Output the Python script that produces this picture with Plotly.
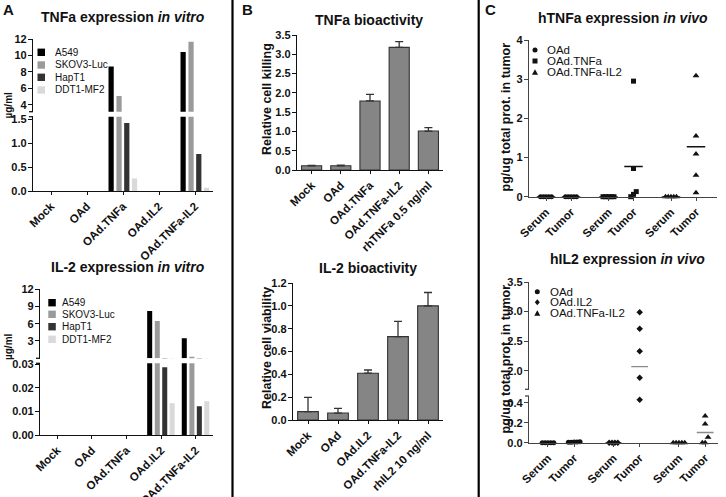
import numpy as np
import plotly.graph_objects as go

W, H = 726, 497
FONT = "Liberation Sans, Arial, sans-serif"

# ---------------- DATA ----------------
A_CATS = ["Mock", "OAd", "OAd.TNFa", "OAd.IL2", "OAd.TNFa-IL2"]
CELL_LINES = ["A549", "SKOV3-Luc", "HapT1", "DDT1-MF2"]
TNFA_A549 = [0, 0, 8.67, 0, 10.42]
TNFA_SKOV3 = [0, 0, 5.08, 0, 11.67]
TNFA_HAPT1 = [0, 0, 1.42, 0, 0.77]
TNFA_DDT1 = [0, 0, 0.26, 0, 0.07]
IL2_A549 = [0, 0, 0, 8.2, 3.46]
IL2_SKOV3 = [0, 0, 0, 6.45, 0.28]
IL2_HAPT1 = [0, 0, 0, 0.0286, 0.0122]
IL2_DDT1 = [0, 0, 0, 0.0134, 0.0143]

B_TNF_CATS = ["Mock", "OAd", "OAd.TNFa", "OAd.TNFa-IL2", "rhTNFa 0.5 ng/ml"]
B_TNF_VALS = [0.11, 0.11, 1.79, 3.18, 1.01]
B_TNF_ERR = [0.01, 0.015, 0.17, 0.15, 0.09]
B_IL2_CATS = ["Mock", "OAd", "OAd.IL2", "OAd.TNFa-IL2", "rhIL2 10 ng/ml"]
B_IL2_VALS = [0.073, 0.061, 0.41, 0.73, 1.0]
B_IL2_ERR = [0.125, 0.04, 0.028, 0.134, 0.117]

C_LABELS = ["Serum", "Tumor", "Serum", "Tumor", "Serum", "Tumor"]
C_SLOTS = [0, 1, 2.5, 3.5, 5, 6]
C_TOP_GROUPS = ["OAd", "OAd.TNFa", "OAd.TNFa-IL2"]
HTNF_OAD_SERUM = [0, 0, 0, 0, 0]
HTNF_OAD_TUMOR = [0, 0, 0, 0, 0]
HTNF_TNF_SERUM = [0, 0, 0, 0, 0]
HTNF_TNF_TUMOR = [2.95, 0.72, 0.13, 0.0, 0.06]
HTNF_TNFIL2_SERUM = [0, 0, 0, 0, 0]
HTNF_TNFIL2_TUMOR = [3.09, 1.55, 1.09, 0.55, 0.10]
C_BOT_GROUPS = ["OAd", "OAd.IL2", "OAd.TNFa-IL2"]
HIL2_OAD_SERUM = [0, 0, 0, 0, 0]
HIL2_OAD_TUMOR = [0.008, 0.005, 0.010, 0.006, 0.004]
HIL2_IL2_SERUM = [0, 0, 0, 0]
HIL2_IL2_TUMOR = [2.99, 2.71, 2.33, 1.88, 0.43]
HIL2_TNFIL2_SERUM = [0, 0, 0, 0, 0]
HIL2_TNFIL2_TUMOR = [0.267, 0.187, 0.054, 0.0, 0.0]

# ---------------- STYLE ----------------
BAR_COLORS = ["#000000", "#9a9a9a", "#333333", "#d9d9d9"]
BAR_OFFS = [-0.33, -0.11, 0.105, 0.32]
BAR_W = 0.145
C_SYMBOLS_TOP = ["circle", "square", "triangle-up"]
C_SYMBOLS_BOT = ["circle", "diamond", "triangle-up"]


def xd(a, b):
    return [a / W, b / W]


def yd(top, bottom):
    return [1 - bottom / H, 1 - top / H]


def X(px):
    return px / W


def Y(py):
    return 1 - py / H


AXC = "#111111"
TICKFONT = dict(family=FONT, size=11, color=AXC, weight="bold")
XTICKFONT = dict(family=FONT, size=11.5, color=AXC, weight="bold")


def yax(domain, anchor, rng, tickvals, fmt, color=AXC):
    return dict(domain=domain, anchor=anchor, range=rng, tickvals=tickvals,
                ticktext=[fmt.format(v) for v in tickvals], automargin=False,
                showline=True, linecolor=color, linewidth=1.3, ticks="outside",
                ticklen=4, tickwidth=1.3, tickcolor=color, showgrid=False,
                zeroline=False, tickfont=TICKFONT, fixedrange=True, ticklabelstandoff=-1)


def xax_cat(domain, anchor, cats, color=AXC):
    return dict(domain=domain, anchor=anchor, type="category", automargin=False,
                categoryorder="array", categoryarray=cats, range=[-0.5, len(cats) - 0.5],
                showline=True, linecolor=color, linewidth=1.3, ticks="outside",
                ticklen=3, tickwidth=1.3, tickcolor=color, showgrid=False,
                zeroline=False, tickangle=-45, tickfont=XTICKFONT, fixedrange=True)


def xax_num(domain, anchor, rng, color=AXC):
    return dict(domain=domain, anchor=anchor, range=rng, tickvals=C_SLOTS, automargin=False,
                ticktext=C_LABELS, showline=True, linecolor=color, linewidth=1.3,
                ticks="outside", ticklen=3, tickwidth=1.3, tickcolor=color,
                showgrid=False, zeroline=False, tickangle=-45, tickfont=XTICKFONT,
                fixedrange=True)


fig = go.Figure()

# ---------------- PANEL A ----------------
tnfa_series = [TNFA_A549, TNFA_SKOV3, TNFA_HAPT1, TNFA_DDT1]
il2_series = [IL2_A549, IL2_SKOV3, IL2_HAPT1, IL2_DDT1]
for xa, ylist, series in (("x", ("y", "y2"), tnfa_series), ("x2", ("y3", "y4"), il2_series)):
    for ya in ylist:
        for i, vals in enumerate(series):
            fig.add_trace(go.Bar(x=A_CATS, y=vals, xaxis=xa, yaxis=ya,
                                 marker=dict(color=BAR_COLORS[i], line=dict(width=0)),
                                 offset=BAR_OFFS[i] - BAR_W / 2, width=BAR_W,
                                 showlegend=False, name=CELL_LINES[i]))

# ---------------- PANEL B ----------------
for xa, ya, cats, vals, err in (("x3", "y5", B_TNF_CATS, B_TNF_VALS, B_TNF_ERR),
                                ("x4", "y6", B_IL2_CATS, B_IL2_VALS, B_IL2_ERR)):
    fig.add_trace(go.Bar(x=cats, y=vals, xaxis=xa, yaxis=ya, width=0.69,
                         marker=dict(color="#858585", line=dict(color="#333333", width=1.1)),
                         error_y=dict(type="data", array=err, arrayminus=[0] * len(err),
                                      symmetric=False, color="#333333", thickness=1.3, width=4),
                         showlegend=False))


# ---------------- PANEL C ----------------
def swarm(vals, tol, step):
    vals = np.asarray(vals, dtype=float)
    order = np.argsort(vals, kind="stable")
    offs = np.zeros(len(vals))
    clusters, cur = [], [order[0]]
    for i in order[1:]:
        if vals[i] - vals[cur[-1]] < tol:
            cur.append(i)
        else:
            clusters.append(cur)
            cur = [i]
    clusters.append(cur)
    for c in clusters:
        n = len(c)
        for k, idx in enumerate(c):
            offs[idx] = (k - (n - 1) / 2) * step
    return offs


c_top = [HTNF_OAD_SERUM, HTNF_OAD_TUMOR, HTNF_TNF_SERUM, HTNF_TNF_TUMOR,
         HTNF_TNFIL2_SERUM, HTNF_TNFIL2_TUMOR]
c_bot = [HIL2_OAD_SERUM, HIL2_OAD_TUMOR, HIL2_IL2_SERUM, HIL2_IL2_TUMOR,
         HIL2_TNFIL2_SERUM, HIL2_TNFIL2_TUMOR]

for gi, vals in enumerate(c_top):
    slot = C_SLOTS[gi]
    m = float(np.mean(vals))
    fig.add_trace(go.Scatter(x=[slot - 0.37, slot + 0.37], y=[m, m], xaxis="x5", yaxis="y7",
                             mode="lines", line=dict(color="#111111", width=1.4),
                             showlegend=False, hoverinfo="skip"))
for gi, vals in enumerate(c_top):
    slot = C_SLOTS[gi]
    offs = swarm(vals, 0.15, 0.11)
    sym = C_SYMBOLS_TOP[gi // 2]
    fig.add_trace(go.Scatter(x=slot + offs, y=vals, xaxis="x5", yaxis="y7", mode="markers",
                             marker=dict(symbol=sym, size=5 if sym != "triangle-up" else 6,
                                         color="#111111", line=dict(width=0)),
                             cliponaxis=False, showlegend=False))

LOW_MAX, UP_MIN = 0.467, 1.685
for gi, vals in enumerate(c_bot):
    slot = C_SLOTS[gi]
    m = float(np.mean(vals))
    for ya in ("y8", "y9"):
        fig.add_trace(go.Scatter(x=[slot - 0.32, slot + 0.32], y=[m, m], xaxis="x6", yaxis=ya,
                                 mode="lines", line=dict(color="#8a8a8a", width=1.4),
                                 showlegend=False, hoverinfo="skip"))
for gi, vals in enumerate(c_bot):
    slot = C_SLOTS[gi]
    offs = swarm(vals, 0.07, 0.11)
    sym = C_SYMBOLS_BOT[gi // 2]
    v = np.asarray(vals, dtype=float)
    xs = slot + offs
    for ya, mask in (("y8", v <= LOW_MAX), ("y9", v >= UP_MIN)):
        if mask.any():
            fig.add_trace(go.Scatter(x=xs[mask], y=v[mask], xaxis="x6", yaxis=ya, mode="markers",
                                     marker=dict(symbol=sym, size=5 if sym != "triangle-up" else 6,
                                                 color="#111111", line=dict(width=0)),
                                     cliponaxis=False, showlegend=False))

# ---------------- AXES ----------------
CAX = "#444444"
layout_axes = dict(
    xaxis=xax_cat(xd(33, 213), "y", A_CATS),
    yaxis=yax(yd(116.7, 191), "x", [0, 1.55], [0, 0.5, 1.0, 1.5], "{:.1f}"),
    yaxis2=yax(yd(39, 111.7), "x", [3.17, 12], [4, 6, 8, 10, 12], "{:.0f}"),
    xaxis2=xax_cat(xd(40, 213), "y3", A_CATS),
    yaxis3=yax(yd(363.3, 435), "x2", [0, 0.0303], [0, 0.01, 0.02, 0.03], "{:.2f}"),
    yaxis4=yax(yd(289, 358.3), "x2", [0, 12], [3, 6, 9, 12], "{:.0f}"),
    xaxis3=xax_cat(xd(297, 443), "y5", B_TNF_CATS),
    yaxis5=yax(yd(35, 170), "x3", [0, 3.5], [0, 0.5, 1, 1.5, 2, 2.5, 3, 3.5], "{:.1f}"),
    xaxis4=xax_cat(xd(293, 443), "y6", B_IL2_CATS),
    yaxis6=yax(yd(283, 420), "x4", [0, 1.2], [0, 0.2, 0.4, 0.6, 0.8, 1.0, 1.2], "{:.1f}"),
    xaxis5=xax_num(xd(529, 717), "y7", [-0.68, 6.84], CAX),
    yaxis7=yax(yd(40, 196.7), "x5", [0, 4], [0, 1, 2, 3, 4], "{:.0f}", CAX),
    xaxis6=xax_num(xd(529, 718), "y8", [-0.725, 6.49], CAX),
    yaxis8=yax(yd(396, 442.7), "x6", [0, LOW_MAX], [0, 0.2, 0.4], "{:.1f}", CAX),
    yaxis9=yax(yd(282, 389.3), "x6", [UP_MIN, 3.5], [2.0, 2.5, 3.0, 3.5], "{:.1f}", CAX),
)

# ---------------- SHAPES & ANNOTATIONS ----------------
shapes, annots = [], []


def hline(x0, x1, y, color=AXC, w=1.3):
    shapes.append(dict(type="line", xref="paper", yref="paper", x0=X(x0), x1=X(x1),
                       y0=Y(y), y1=Y(y), line=dict(color=color, width=w)))


def vline(x, y0, y1, color="#000", w=2.2):
    shapes.append(dict(type="line", xref="paper", yref="paper", x0=X(x), x1=X(x),
                       y0=Y(y0), y1=Y(y1), line=dict(color=color, width=w)))


def text(x, y, s, size, anchor="center", angle=0):
    annots.append(dict(xref="paper", yref="paper", x=X(x), y=Y(y), text=s, showarrow=False,
                       xanchor=anchor, yanchor="middle", textangle=angle,
                       font=dict(family=FONT, size=size, color="#111111")))


vline(232.5, 0, 497)
vline(478.7, 0, 497)

for xax_px, ys, col in ((33, (111.7, 116.7), AXC), (40, (358.3, 363.3), AXC),
                        (529, (389.3, 396), CAX)):
    for yy in ys:
        hline(xax_px - 4, xax_px, yy, col)

text(8, 9, "<b>A</b>", 15)
text(247, 9, "<b>B</b>", 15)
text(490, 9, "<b>C</b>", 15)

text(123, 17, "<b>TNFa expression <i>in vitro</i></b>", 14)
text(128, 267, "<b>IL-2 expression <i>in vitro</i></b>", 14)
text(369, 20, "<b>TNFa bioactivity</b>", 14)
text(368, 268, "<b>IL-2 bioactivity</b>", 14)
text(623, 18, "<b>hTNFa expression <i>in vivo</i></b>", 14)
text(627, 259, "<b>hIL2 expression <i>in vivo</i></b>", 14)

text(8, 105.5, "<b>µg/ml</b>", 10, angle=-90)
text(8, 347, "<b>µg/ml</b>", 10, angle=-90)
text(267, 99, "<b>Relative cell killing</b>", 12.5, angle=-90)
text(267, 348, "<b>Relative cell viability</b>", 12.5, angle=-90)
text(505.5, 117, "<b>pg/ug total prot. in tumor</b>", 12.5, angle=-90)
text(505.5, 359, "<b>pg/ug total prot. in tumor</b>", 12.5, angle=-90)

for (sx, tx, rows) in ((37.5, 52.5, (52.3, 65, 77.3, 90)), (48.3, 60, (302.7, 314.3, 326.7, 339.3))):
    for i, yy in enumerate(rows):
        shapes.append(dict(type="rect", xref="paper", yref="paper", x0=X(sx), x1=X(sx + 7.5),
                           y0=Y(yy + 3.7), y1=Y(yy - 3.7), fillcolor=BAR_COLORS[i],
                           line=dict(width=0)))
        text(tx, yy, CELL_LINES[i], 10, anchor="left")


def marker_shape(sym, cx, cy):
    if sym == "circle":
        shapes.append(dict(type="circle", xref="paper", yref="paper", x0=X(cx - 2.5),
                           x1=X(cx + 2.5), y0=Y(cy + 2.5), y1=Y(cy - 2.5),
                           fillcolor="#111", line=dict(width=0)))
    elif sym == "square":
        shapes.append(dict(type="rect", xref="paper", yref="paper", x0=X(cx - 2.5),
                           x1=X(cx + 2.5), y0=Y(cy + 2.5), y1=Y(cy - 2.5),
                           fillcolor="#111", line=dict(width=0)))
    else:
        if sym == "triangle-up":
            pts = [(cx, cy - 3), (cx + 3, cy + 2.5), (cx - 3, cy + 2.5)]
        else:
            pts = [(cx, cy - 3), (cx + 2.5, cy), (cx, cy + 3), (cx - 2.5, cy)]
        path = "M " + " L ".join(f"{X(px):.5f},{Y(py):.5f}" for px, py in pts) + " Z"
        shapes.append(dict(type="path", xref="paper", yref="paper", path=path,
                           fillcolor="#111", line=dict(width=0)))


for (mx, tx, rows, syms, labels) in ((535, 545, (50, 61, 72.3), C_SYMBOLS_TOP, C_TOP_GROUPS),
                                     (537.3, 548.3, (291.7, 302.3, 313.3), C_SYMBOLS_BOT, C_BOT_GROUPS)):
    for i, yy in enumerate(rows):
        marker_shape(syms[i], mx, yy)
        text(tx, yy, labels[i], 11.5, anchor="left")

fig.update_layout(
    template="none",
    width=W, height=H, margin=dict(l=0, r=0, t=0, b=0, pad=0, autoexpand=False),
    paper_bgcolor="white", plot_bgcolor="white", barmode="overlay",
    showlegend=False, font=dict(family=FONT, color="#111111"),
    shapes=shapes, annotations=annots, **layout_axes,
)

fig.write_html("out.html", config={"displayModeBar": False},
               post_script="document.body.style.margin='0';document.body.style.overflow='hidden';")
